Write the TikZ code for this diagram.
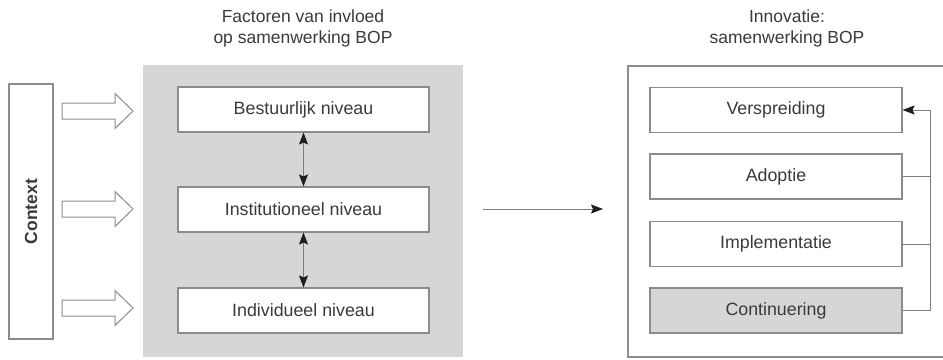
\documentclass[tikz,border=0pt]{standalone}
\usepackage{fontspec}
\setmainfont{Liberation Sans}
\usetikzlibrary{arrows.meta,positioning}
\definecolor{txt}{HTML}{3A3A3A}
\definecolor{bord}{HTML}{8C8C8C}
\definecolor{panel}{HTML}{D5D6D8}
\definecolor{tip}{HTML}{1E1E1E}
\tikzset{
  lvl/.style={draw=bord,line width=1.1pt,fill=white,minimum width=251pt,minimum height=45pt,inner sep=0pt,font=\fontsize{17.8}{20}\selectfont,text=txt},
  title/.style={align=center,font=\fontsize{17.5}{21}\selectfont,text=txt,inner sep=0pt},
  hollow/.style={draw=bord,line width=1pt,fill=white,line join=miter},
  link/.style={draw=bord!90!black,line width=1pt},
  tipa/.style={-{Stealth[length=12pt,width=9pt,inset=2pt,color=tip,fill=tip]}},
  tipb/.style={{Stealth[length=12pt,width=9pt,inset=2pt,color=tip,fill=tip]}-{Stealth[length=12pt,width=9pt,inset=2pt,color=tip,fill=tip]}}
}
\begin{document}
\begin{tikzpicture}[x=1pt,y=-1pt]
\clip (0,0) rectangle (943,359);
\useasboundingbox (0,0) rectangle (943,359);
\fill[white] (0,0) rectangle (943,359);

% titles
\node[title] (t1) at (303,28) {Factoren van invloed\\op samenwerking BOP};
\node[title] (t2) at (787,28) {Innovatie:\\samenwerking BOP};

% context
\node[draw=bord,line width=1.1pt,minimum width=44pt,minimum height=255pt,inner sep=0pt] (ctx) at (31,211.5) {};
\node[rotate=90,font=\bfseries\fontsize{17.5}{20}\selectfont,text=txt] (ctxt) at (ctx.center) {Context};

% hollow arrows
\foreach \yy/\nm in {111/a1,209/a2,308/a3}{
  \draw[hollow] (62,\yy-8) -- (115,\yy-8) -- (115,\yy-17.5) -- (133,\yy) -- (115,\yy+17.5) -- (115,\yy+8) -- (62,\yy+8) -- cycle;
}

% left panel
\node[fill=panel,minimum width=320pt,minimum height=292pt,inner sep=0pt] (panel) at (303,211) {};
\node[lvl] (best) at (303.5,109.5) {Bestuurlijk niveau};
\node[lvl] (inst) at (303.5,209.5) {Institutioneel niveau};
\node[lvl] (indi) at (303.5,310.5) {Individueel niveau};
\draw[link,tipb] (best.south) -- (inst.north);
\draw[link,tipb] (inst.south) -- (indi.north);

% middle arrow
\coordinate (ms) at (483,209);
\coordinate (me) at (603,209);
\draw[link,tipa] (ms) -- (me);

% right panel
\draw[draw=bord,line width=1.1pt] (960,66) -- (628,66) -- (628,357) -- (960,357);
\node[lvl,minimum width=252pt] (vers) at (776,110) {Verspreiding};
\node[lvl,minimum width=252pt] (adop) at (776,176.5) {Adoptie};
\node[lvl,minimum width=252pt] (impl) at (776,244) {Implementatie};
\node[lvl,minimum width=252pt,fill=panel] (cont) at (776,310.5) {Continuering};
\coordinate (fbtop) at (930,110);
\coordinate (fbbot) at (930,310.5);
\draw[link] (adop.east) -- (930,176.5);
\draw[link] (impl.east) -- (930,244);
\draw[link,tipa] (cont.east) -- (fbbot) -- (fbtop) -- (vers.east);
\end{tikzpicture}
\end{document}
